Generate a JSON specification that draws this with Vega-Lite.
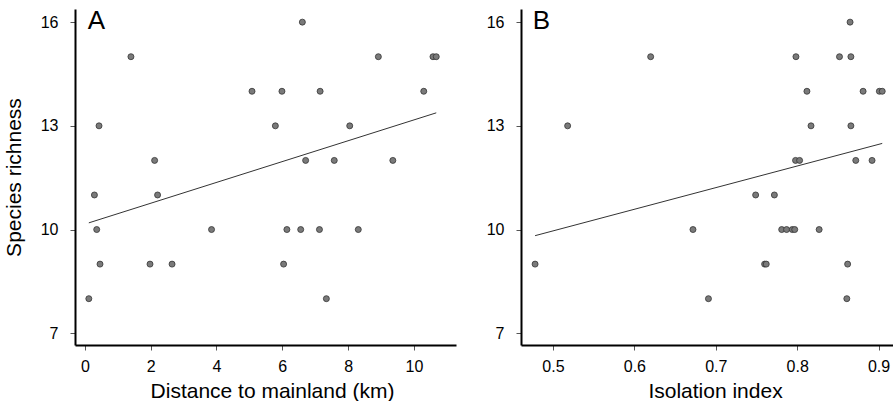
{
  "$schema": "https://vega.github.io/schema/vega-lite/v6.json",
  "padding": {"left": 3, "top": 8, "right": 0, "bottom": 0},
  "background": "white",
  "spacing": 30,
  "config": {
    "view": {"stroke": null},
    "font": "Liberation Sans",
    "axis": {
      "grid": false,
      "domainColor": "#000000",
      "domainWidth": 2,
      "tickColor": "#555555",
      "tickWidth": 1,
      "tickSize": 5,
      "labelFont": "Liberation Sans",
      "labelFontSize": 16,
      "labelColor": "#000000",
      "titleFont": "Liberation Sans",
      "titleFontSize": 21,
      "titleFontWeight": "normal",
      "titleColor": "#000000"
    },
    "axisX": {"labelPadding": 8, "titlePadding": 6, "labelFlush": false},
    "axisY": {"labelPadding": 12, "titlePadding": 16}
  },
  "datasets": {
    "a": [
      {"x": 1.40, "y": 15}, {"x": 8.92, "y": 15}, {"x": 10.58, "y": 15}, {"x": 10.68, "y": 15},
      {"x": 6.61, "y": 16},
      {"x": 5.08, "y": 14}, {"x": 5.99, "y": 14}, {"x": 7.15, "y": 14}, {"x": 10.30, "y": 14},
      {"x": 0.43, "y": 13}, {"x": 5.79, "y": 13}, {"x": 8.05, "y": 13},
      {"x": 2.12, "y": 12}, {"x": 6.71, "y": 12}, {"x": 7.58, "y": 12}, {"x": 9.36, "y": 12},
      {"x": 0.29, "y": 11}, {"x": 2.21, "y": 11},
      {"x": 0.36, "y": 10}, {"x": 3.85, "y": 10}, {"x": 6.14, "y": 10}, {"x": 6.56, "y": 10}, {"x": 7.13, "y": 10}, {"x": 8.31, "y": 10},
      {"x": 0.46, "y": 9}, {"x": 1.98, "y": 9}, {"x": 2.65, "y": 9}, {"x": 6.04, "y": 9},
      {"x": 0.12, "y": 8}, {"x": 7.34, "y": 8}
    ],
    "b": [
      {"x": 0.865, "y": 16},
      {"x": 0.620, "y": 15}, {"x": 0.7985, "y": 15}, {"x": 0.852, "y": 15}, {"x": 0.866, "y": 15},
      {"x": 0.812, "y": 14}, {"x": 0.881, "y": 14}, {"x": 0.901, "y": 14}, {"x": 0.9045, "y": 14},
      {"x": 0.518, "y": 13}, {"x": 0.817, "y": 13}, {"x": 0.866, "y": 13},
      {"x": 0.798, "y": 12}, {"x": 0.803, "y": 12}, {"x": 0.872, "y": 12}, {"x": 0.892, "y": 12},
      {"x": 0.749, "y": 11}, {"x": 0.772, "y": 11},
      {"x": 0.672, "y": 10}, {"x": 0.781, "y": 10}, {"x": 0.787, "y": 10}, {"x": 0.794, "y": 10}, {"x": 0.797, "y": 10}, {"x": 0.827, "y": 10},
      {"x": 0.478, "y": 9}, {"x": 0.760, "y": 9}, {"x": 0.762, "y": 9}, {"x": 0.862, "y": 9},
      {"x": 0.691, "y": 8}, {"x": 0.861, "y": 8}
    ]
  },
  "hconcat": [
    {
      "width": 381,
      "height": 336,
      "layer": [
        {
          "data": {"name": "a"},
          "mark": {"type": "point", "filled": true, "shape": "circle", "size": 36, "color": "#7a7a7a", "stroke": "#333333", "strokeWidth": 0.8, "opacity": 1},
          "encoding": {
            "x": {"field": "x", "type": "quantitative", "scale": {"domain": [-0.3, 11.28], "nice": false, "zero": false},
                  "axis": {"values": [0, 2, 4, 6, 8, 10], "title": "Distance to mainland (km)", "titleX": 197}},
            "y": {"field": "y", "type": "quantitative", "scale": {"domain": [6.66, 16.38], "nice": false, "zero": false},
                  "axis": {"values": [7, 10, 13, 16], "title": "Species richness"}}
          }
        },
        {
          "data": {"name": "a"},
          "transform": [{"regression": "y", "on": "x"}],
          "mark": {"type": "line", "color": "#333333", "strokeWidth": 1},
          "encoding": {
            "x": {"field": "x", "type": "quantitative"},
            "y": {"field": "y", "type": "quantitative"}
          }
        },
        {
          "data": {"values": [{"panel": "A"}]},
          "mark": {"type": "text", "align": "left", "baseline": "alphabetic", "fontSize": 26, "font": "Liberation Sans", "color": "#000000"},
          "encoding": {
            "x": {"datum": 0.09, "type": "quantitative"},
            "y": {"datum": 15.8, "type": "quantitative"},
            "text": {"field": "panel"}
          }
        }
      ]
    },
    {
      "width": 374,
      "height": 336,
      "layer": [
        {
          "data": {"name": "b"},
          "mark": {"type": "point", "filled": true, "shape": "circle", "size": 36, "color": "#7a7a7a", "stroke": "#333333", "strokeWidth": 0.8, "opacity": 1},
          "encoding": {
            "x": {"field": "x", "type": "quantitative", "scale": {"domain": [0.4607, 0.9202], "nice": false, "zero": false},
                  "axis": {"values": [0.5, 0.6, 0.7, 0.8, 0.9], "format": ".1f", "title": "Isolation index", "titleX": 194}},
            "y": {"field": "y", "type": "quantitative", "scale": {"domain": [6.66, 16.38], "nice": false, "zero": false},
                  "axis": {"values": [7, 10, 13, 16], "title": null}}
          }
        },
        {
          "data": {"name": "b"},
          "transform": [{"regression": "y", "on": "x"}],
          "mark": {"type": "line", "color": "#333333", "strokeWidth": 1},
          "encoding": {
            "x": {"field": "x", "type": "quantitative"},
            "y": {"field": "y", "type": "quantitative"}
          }
        },
        {
          "data": {"values": [{"panel": "B"}]},
          "mark": {"type": "text", "align": "left", "baseline": "alphabetic", "fontSize": 26, "font": "Liberation Sans", "color": "#000000"},
          "encoding": {
            "x": {"datum": 0.475, "type": "quantitative"},
            "y": {"datum": 15.8, "type": "quantitative"},
            "text": {"field": "panel"}
          }
        }
      ]
    }
  ]
}
